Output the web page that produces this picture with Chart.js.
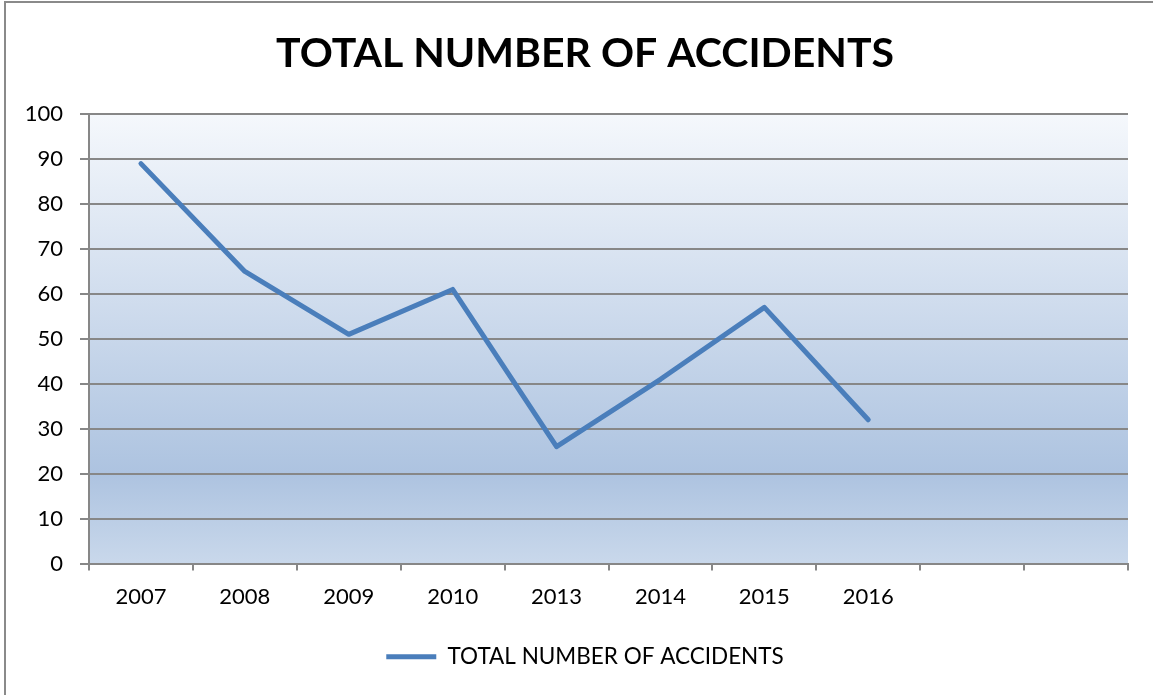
<!DOCTYPE html>
<html>
<head>
<meta charset="utf-8">
<title>Total number of accidents</title>
<script src="https://cdn.jsdelivr.net/npm/chart.js@4"></script>
<style>
  html, body { margin: 0; padding: 0; background: #ffffff; }
  #wrap { position: relative; width: 1153px; height: 695px; }
</style>
</head>
<body>
<div id="wrap"><canvas id="chart" width="1153" height="695"></canvas></div>
<script>
var years = ["2007", "2008", "2009", "2010", "2013", "2014", "2015", "2016", "", ""];
var accidents = [89, 65, 51, 61, 26, 41, 57, 32];
var seriesName = "TOTAL NUMBER OF ACCIDENTS";
var yMin = 0;
var yMax = 100;
var yStep = 10;

var lineColor = "#4a7ebb";
var gridColor = "#878787";
var fontFamily = "Lato, 'Open Sans', sans-serif";

// gradient behind the plot area, like the Excel default fill
var plotBackground = {
  id: "plotBackground",
  beforeDraw: function(chart) {
    var ctx = chart.ctx;
    var area = chart.chartArea;
    var grad = ctx.createLinearGradient(0, area.top, 0, area.bottom);
    grad.addColorStop(0, "#f5f8fc");
    grad.addColorStop(0.8, "#adc3e0");
    grad.addColorStop(1, "#c9d8eb");
    ctx.save();
    ctx.fillStyle = grad;
    ctx.fillRect(area.left, area.top, area.right - area.left, area.bottom - area.top);
    ctx.restore();
  }
};

// outer frame of the chart object (only left and top edges are in the picture)
var outerFrame = {
  id: "outerFrame",
  afterDraw: function(chart) {
    var ctx = chart.ctx;
    ctx.save();
    ctx.strokeStyle = "#8a8a8a";
    ctx.lineWidth = 2;
    ctx.beginPath();
    ctx.moveTo(5, 695);
    ctx.lineTo(5, 2);
    ctx.lineTo(1153, 2);
    ctx.stroke();
    ctx.restore();
  }
};

var ctx = document.getElementById("chart").getContext("2d");

var chart = new Chart(ctx, {
  type: "line",
  data: {
    labels: years,
    datasets: [{
      label: seriesName,
      data: accidents,
      borderColor: lineColor,
      backgroundColor: lineColor,
      borderWidth: 5,
      borderCapStyle: "round",
      borderJoinStyle: "round",
      pointRadius: 0,
      pointHoverRadius: 0,
      tension: 0,
      fill: false
    }]
  },
  options: {
    responsive: false,
    animation: false,
    layout: {
      // left padding keeps title and legend centred where the original has them
      padding: { left: 42, right: 25, top: 0, bottom: 17 }
    },
    plugins: {
      title: {
        display: true,
        text: seriesName,
        color: "#000000",
        font: { family: fontFamily, size: 41, weight: "bold" },
        padding: { top: 29, bottom: 36 }
      },
      legend: {
        display: true,
        position: "bottom",
        labels: {
          color: "#000000",
          font: { family: fontFamily, size: 22.5 },
          boxWidth: 50,
          boxHeight: 5,
          padding: 10,
          useBorderRadius: true,
          borderRadius: 2.5,
          generateLabels: function(chart) {
            return chart.data.datasets.map(function(ds, i) {
              return {
                text: ds.label,
                fillStyle: ds.borderColor,
                strokeStyle: ds.borderColor,
                lineWidth: 0,
                fontColor: "#000000",
                datasetIndex: i
              };
            });
          }
        }
      },
      tooltip: { enabled: false }
    },
    scales: {
      x: {
        offset: true,
        grid: {
          offset: true,
          drawOnChartArea: false,
          drawTicks: true,
          tickLength: 7,
          color: gridColor,
          lineWidth: 2
        },
        border: { display: true, color: gridColor, width: 2 },
        ticks: {
          color: "#000000",
          font: { family: fontFamily, size: 22 },
          padding: 13,
          maxRotation: 0,
          autoSkip: false
        },
        afterFit: function(scale) {
          scale.height = 72;
        }
      },
      y: {
        min: yMin,
        max: yMax,
        grid: {
          color: gridColor,
          lineWidth: 2,
          drawTicks: true,
          tickLength: 9
        },
        border: { display: true, color: gridColor, width: 2 },
        ticks: {
          stepSize: yStep,
          color: "#000000",
          font: { family: fontFamily, size: 22 },
          padding: 17
        },
        afterFit: function(scale) {
          scale.width = 47;
          // labels reach past the narrowed box, so don't clip them
          scale._computeLabelArea = function() { return undefined; };
        }
      }
    }
  },
  plugins: [plotBackground, outerFrame]
});
</script>
</body>
</html>
